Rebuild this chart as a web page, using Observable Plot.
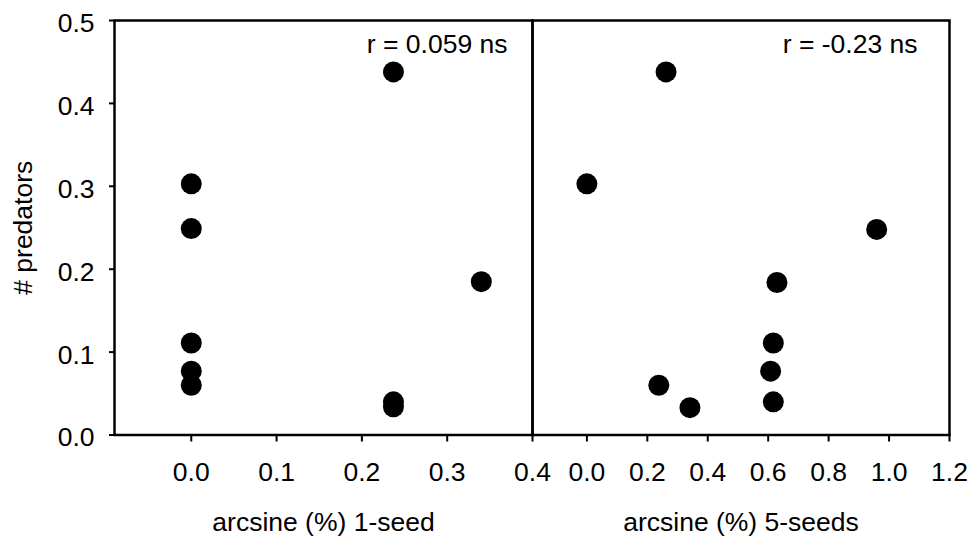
<!DOCTYPE html>
<html><head><meta charset="utf-8">
<script src="https://cdn.jsdelivr.net/npm/d3@7"></script>
<script src="https://cdn.jsdelivr.net/npm/@observablehq/plot@0.6"></script>
<style>
body{margin:0;background:#fff;}
#wrap{position:relative;width:972px;height:537px;}
#wrap svg{position:absolute;top:0;overflow:visible;}
</style></head><body><div id="wrap"></div>
<script>
// Data
const seed1X = [0, 0, 0, 0, 0, 0.237, 0.237, 0.237, 0.340];
const seed1Y = [0.303, 0.249, 0.111, 0.077, 0.060, 0.438, 0.040, 0.034, 0.185];
const seed5X = [0.0, 0.262, 0.959, 0.629, 0.617, 0.608, 0.617, 0.238, 0.341];
const seed5Y = [0.303, 0.438, 0.248, 0.184, 0.111, 0.077, 0.040, 0.060, 0.033];
const yTicks = [0, 0.1, 0.2, 0.3, 0.4, 0.5];
const x1Ticks = [0, 0.1, 0.2, 0.3, 0.4];
const x5Ticks = [0, 0.2, 0.4, 0.6, 0.8, 1.0, 1.2];
const yLabel = "# predators";
const x1Label = "arcsine (%) 1-seed";
const x5Label = "arcsine (%) 5-seeds";
const r1Text = "r = 0.059 ns";
const r5Text = "r = -0.23 ns";

const pts1 = seed1X.map((x, i) => ({x, y: seed1Y[i]}));
const pts5 = seed5X.map((x, i) => ({x, y: seed5Y[i]}));

const common = {
  height: 537, marginTop: 20, marginBottom: 102.5,
  style: {fontFamily: "'Liberation Sans', Arial, sans-serif", fontSize: "26.5px", color: "black", background: "transparent", overflow: "visible"}
};

const left = Plot.plot({
  ...common, width: 532, marginLeft: 114, marginRight: 0,
  x: {domain: [-0.09, 0.4]},
  y: {domain: [0, 0.5]},
  marks: [
    Plot.axisY(yTicks, {tickSize: 5, fill: "none", label: null, strokeWidth: 2}),
    Plot.axisY(yTicks, {tickSize: 0, tickPadding: 20, tickFormat: ".1f", label: null, dy: 3}),
    Plot.axisX(x1Ticks, {tickSize: 7, tickPadding: 20.5, tickFormat: ".1f", label: null, strokeWidth: 2}),
    Plot.dot(pts1, {x: "x", y: "y", r: 10.5, fill: "black", stroke: "none"}),
    Plot.frame({strokeWidth: 2.5}),
    Plot.text([r1Text], {frameAnchor: "top-right", dx: -25, dy: 24.5, textAnchor: "end", lineAnchor: "middle"}),
    Plot.text([yLabel], {frameAnchor: "left", rotate: -90, dx: -101, lineAnchor: "top", textAnchor: "middle"}),
    Plot.text([x1Label], {frameAnchor: "bottom", dy: 88, lineAnchor: "middle"})
  ]
});

const right = Plot.plot({
  ...common, width: 440, marginLeft: 0, marginRight: 23,
  x: {domain: [-0.18, 1.2]},
  y: {domain: [0, 0.5], axis: null},
  marks: [
    Plot.axisX(x5Ticks, {tickSize: 7, tickPadding: 20.5, tickFormat: ".1f", label: null, strokeWidth: 2}),
    Plot.dot(pts5, {x: "x", y: "y", r: 10.5, fill: "black", stroke: "none"}),
    Plot.frame({strokeWidth: 2.5}),
    Plot.text([r5Text], {frameAnchor: "top-right", dx: -32, dy: 24.5, textAnchor: "end", lineAnchor: "middle"}),
    Plot.text([x5Label], {frameAnchor: "bottom", dy: 88, lineAnchor: "middle"})
  ]
});

left.style.left = "0px";
right.style.left = "532px";
document.getElementById("wrap").append(left, right);
</script>
</body></html>
